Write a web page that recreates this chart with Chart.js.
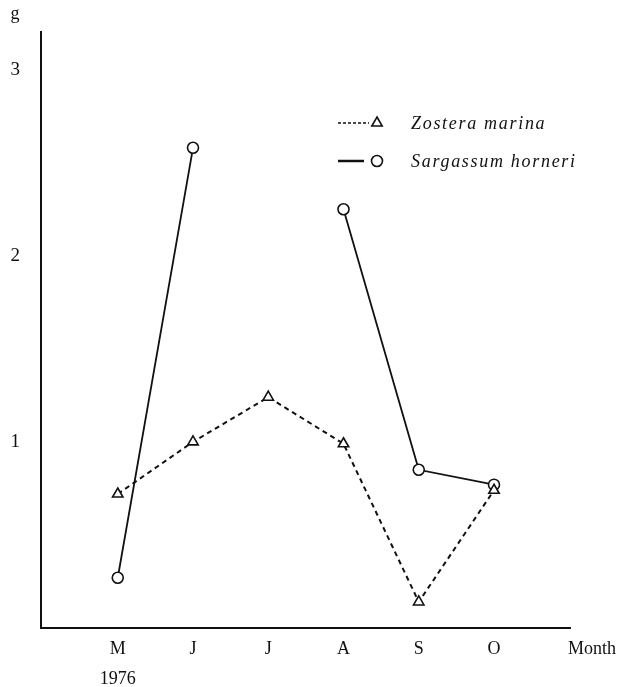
<!DOCTYPE html>
<html>
<head>
<meta charset="utf-8">
<script src="https://cdn.jsdelivr.net/npm/chart.js@4.4.0/dist/chart.umd.min.js"></script>
<style>
  html, body { margin: 0; padding: 0; background: #fff; }
</style>
</head>
<body>
<canvas id="chart" width="620" height="687"></canvas>
<script>
const months = ['M', 'J', 'J', 'A', 'S', 'O'];
const zostera = [0.72, 1.00, 1.24, 0.99, 0.14, 0.74];
const sargassum = [0.27, 2.58, null, 2.25, 0.85, 0.77];
const yTicks = [1, 2, 3];
const seriesNames = ['Zostera marina', 'Sargassum horneri'];

const ink = '#111';
const serif = '"Liberation Serif", "DejaVu Serif", serif';

const toPoints = arr => arr.map((v, i) => ({ x: i, y: v }));

// title bits + legend drawn by hand (line sample + marker)
const extras = {
  id: 'extras',
  afterDraw(chart) {
    const ctx = chart.ctx;
    const xs = chart.scales.x;
    ctx.save();
    ctx.fillStyle = ink;
    ctx.font = '18px ' + serif;
    ctx.textAlign = 'center';
    ctx.textBaseline = 'middle';
    ctx.fillText('Month', xs.right + 22, 649);
    ctx.textBaseline = 'alphabetic';
    ctx.fillText('g', 15, 19);

    const rows = [123, 161];
    chart.data.datasets.forEach((ds, i) => {
      const y = rows[i];
      ctx.strokeStyle = ink;
      ctx.lineWidth = i === 0 ? 1.5 : 2.5;
      ctx.setLineDash(i === 0 ? [3, 2] : []);
      ctx.beginPath();
      ctx.moveTo(338, y);
      ctx.lineTo(i === 0 ? 369 : 364, y);
      ctx.stroke();
      ctx.setLineDash([]);
      ctx.fillStyle = '#fff';
      ctx.lineWidth = ds.pointBorderWidth;
      Chart.helpers.drawPoint(ctx, {
        pointStyle: ds.pointStyle, radius: ds.pointRadius, borderWidth: ds.pointBorderWidth
      }, 377, y);
      ctx.fillStyle = ink;
      ctx.font = 'italic 18px ' + serif;
      ctx.letterSpacing = '1.7px';
      ctx.textAlign = 'left';
      ctx.textBaseline = 'alphabetic';
      ctx.fillText(ds.label, 411, y + 6);
      ctx.letterSpacing = '0px';
    });
    ctx.restore();
  }
};

new Chart(document.getElementById('chart'), {
  type: 'line',
  data: {
    datasets: [{
      label: seriesNames[0],
      data: toPoints(zostera),
      borderColor: ink,
      borderWidth: 2,
      borderDash: [5, 4],
      pointStyle: 'triangle',
      pointRadius: 6,
      pointBorderWidth: 1.6,
      pointBorderColor: ink,
      pointBackgroundColor: '#fff',
      tension: 0
    }, {
      label: seriesNames[1],
      data: toPoints(sargassum),
      borderColor: ink,
      borderWidth: 1.8,
      pointStyle: 'circle',
      pointRadius: 5.5,
      pointBorderWidth: 1.6,
      pointBorderColor: ink,
      pointBackgroundColor: '#fff',
      spanGaps: false,
      tension: 0
    }]
  },
  options: {
    responsive: false,
    animation: false,
    layout: { padding: { top: 30, right: 50, left: 0, bottom: 0 } },
    plugins: {
      legend: { display: false },
      tooltip: { enabled: false }
    },
    scales: {
      x: {
        type: 'linear',
        min: -1.02,
        max: 6.01,
        afterBuildTicks: s => { s.ticks = months.map((m, i) => ({ value: i })); },
        afterFit: s => { s.height = 59; },
        grid: { display: false, drawTicks: false },
        border: { display: true, color: ink, width: 2 },
        ticks: {
          autoSkip: false,
          maxRotation: 0,
          padding: 6,
          color: ink,
          font: { family: serif, size: 18, lineHeight: 1.67 },
          callback: v => (v === 0 ? [months[0], '1976'] : months[v])
        }
      },
      y: {
        min: 0,
        max: 3.2,
        afterBuildTicks: s => { s.ticks = yTicks.map(v => ({ value: v })); },
        afterFit: s => { s.width = 41; },
        grid: { display: false, drawTicks: false },
        border: { display: true, color: ink, width: 2 },
        ticks: {
          padding: 21,
          color: ink,
          font: { family: serif, size: 19 }
        }
      }
    }
  },
  plugins: [extras]
});
</script>
</body>
</html>
